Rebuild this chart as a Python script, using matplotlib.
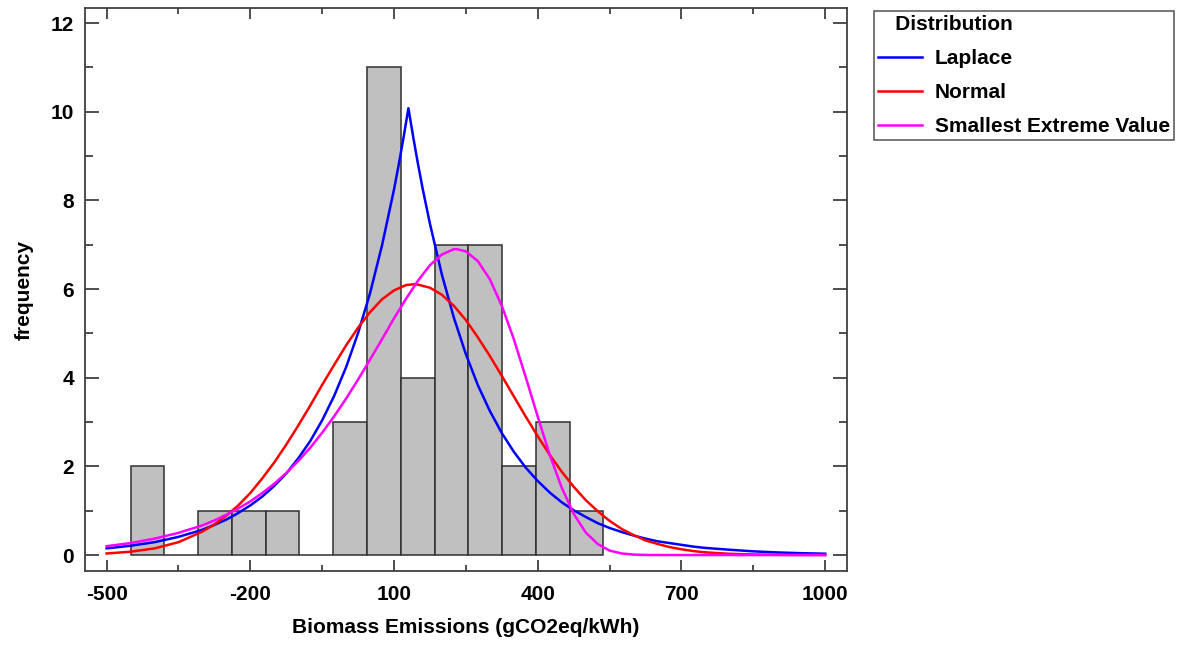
import matplotlib.pyplot as plt

plt.rcParams['font.family'] = ['Liberation Sans', 'DejaVu Sans']
plt.rcParams['font.weight'] = 'bold'
plt.rcParams['axes.unicode_minus'] = False

# histogram: bin edges and counts
bin_edges = [-450, -379.5, -309, -238.5, -168, -97.5, -27, 43.5, 114, 184.5,
             255, 325.5, 396, 466.5, 537]
counts = [2, 0, 1, 1, 1, 0, 3, 11, 4, 7, 7, 2, 3, 1]

# fitted curves
lap_x = [-500, -450, -400, -350, -300, -275, -250, -225, -200, -175, -150, -125,
         -100, -75, -50, -25, 0, 25, 50, 75, 100, 110, 120, 130, 140, 150, 160,
         175, 200, 225, 250, 275, 300, 325, 350, 375, 400, 425, 450, 475, 500,
         525, 550, 575, 600, 625, 650, 700, 725, 750, 775, 800, 850, 900, 950,
         1000]
lap_y = [0.15, 0.21, 0.29, 0.41, 0.57, 0.68, 0.80, 0.95, 1.12, 1.32, 1.56, 1.84,
         2.18, 2.57, 3.04, 3.59, 4.24, 5.01, 5.91, 6.99, 8.25, 8.82, 9.43, 10.08,
         9.43, 8.82, 8.25, 7.47, 6.32, 5.35, 4.53, 3.83, 3.25, 2.75, 2.33, 1.97,
         1.67, 1.41, 1.19, 1.01, 0.86, 0.72, 0.61, 0.52, 0.44, 0.37, 0.31, 0.23,
         0.19, 0.16, 0.14, 0.12, 0.083, 0.059, 0.042, 0.030]

norm_x = [-500, -450, -400, -350, -300, -275, -250, -225, -200, -175, -150, -125,
          -100, -75, -50, -25, 0, 25, 50, 75, 100, 125, 143, 150, 175, 200, 225,
          250, 275, 300, 325, 350, 375, 400, 425, 450, 475, 500, 525, 550, 575,
          600, 625, 650, 675, 700, 725, 750, 800, 850, 900, 950, 1000]
norm_y = [0.035, 0.075, 0.15, 0.29, 0.53, 0.69, 0.89, 1.12, 1.40, 1.73, 2.09,
          2.49, 2.92, 3.37, 3.84, 4.29, 4.73, 5.13, 5.48, 5.77, 5.97, 6.09, 6.11,
          6.10, 6.03, 5.87, 5.62, 5.30, 4.91, 4.49, 4.04, 3.58, 3.12, 2.68, 2.26,
          1.88, 1.54, 1.24, 0.99, 0.77, 0.59, 0.45, 0.33, 0.25, 0.18, 0.13,
          0.089, 0.061, 0.028, 0.012, 0.005, 0.002, 0.001]

sev_x = [-500, -450, -400, -350, -300, -275, -250, -225, -200, -175, -150, -125,
         -100, -75, -50, -25, 0, 25, 50, 75, 100, 125, 150, 175, 200, 225, 231.5,
         250, 275, 300, 325, 350, 375, 400, 425, 450, 475, 500, 525, 550, 575,
         600, 625, 650, 700, 1000]
sev_y = [0.20, 0.27, 0.37, 0.50, 0.67, 0.78, 0.91, 1.05, 1.21, 1.40, 1.61, 1.85,
         2.12, 2.42, 2.76, 3.13, 3.53, 3.96, 4.41, 4.87, 5.34, 5.78, 6.19, 6.54,
         6.78, 6.90, 6.90, 6.85, 6.63, 6.22, 5.62, 4.87, 4.01, 3.12, 2.26, 1.52,
         0.93, 0.51, 0.25, 0.10, 0.036, 0.010, 0.002, 0.0005, 0.0, 0.0]

fig = plt.figure(figsize=(11.81, 6.46), dpi=100)
ax = fig.add_axes([0.072, 0.1161, 0.645, 0.8715])

widths = [bin_edges[i + 1] - bin_edges[i] for i in range(len(counts))]
ax.bar(bin_edges[:-1], counts, width=widths, align='edge', color='#c0c0c0',
       edgecolor='#303030', linewidth=1.1, zorder=1)

ax.plot(lap_x, lap_y, color='#0000ff', lw=1.8, label='Laplace', zorder=3)
ax.plot(norm_x, norm_y, color='#ff0000', lw=1.8, label='Normal', zorder=3)
ax.plot(sev_x, sev_y, color='#ff00ff', lw=1.8, label='Smallest Extreme Value', zorder=3)

ax.set_xlim(-545, 1045)
ax.set_ylim(-0.36, 12.34)
ax.set_xticks([-500, -200, 100, 400, 700, 1000])
ax.set_xticks([-350, -50, 250, 550, 850], minor=True)
ax.set_yticks([0, 2, 4, 6, 8, 10, 12])
ax.set_yticks([1, 3, 5, 7, 9, 11], minor=True)

for s in ax.spines.values():
    s.set_color('#404040')
    s.set_linewidth(1.3)

ax.tick_params(axis='both', which='both', direction='in', colors='#404040',
               labelcolor='black', width=1.3, labelsize=15)
ax.tick_params(axis='x', which='major', length=8, top=True, pad=10)
ax.tick_params(axis='x', which='minor', length=4.3, top=True)
ax.tick_params(axis='y', which='major', length=10, right=True, pad=8)
ax.tick_params(axis='y', which='minor', length=5.8, right=True)

ax.set_xlabel('Biomass Emissions (gCO2eq/kWh)', fontsize=15, fontweight='bold', labelpad=10)
ax.set_ylabel('frequency', fontsize=15, fontweight='bold', labelpad=12)

leg = fig.legend(loc='upper left', bbox_to_anchor=(0.740, 0.983),
                 title='   Distribution', fontsize=15, title_fontsize=15,
                 handlelength=2.1, handletextpad=0.62, labelspacing=0.72,
                 borderpad=0.2, borderaxespad=0, fancybox=False,
                 edgecolor='#606060', framealpha=1)
leg.get_title().set_fontweight('bold')
leg._legend_box.align = 'left'
leg.get_frame().set_linewidth(1.2)

fig.savefig('out.png', dpi=100)
